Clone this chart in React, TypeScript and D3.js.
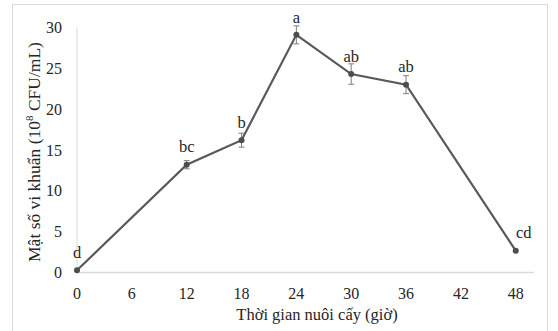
import React, { useEffect, useRef } from 'react';
import * as d3 from 'd3';

// values
const hours = [0, 12, 18, 24, 30, 36, 48];
const density = [0.27, 13.2, 16.2, 29.1, 24.3, 23.0, 2.67];
const errors = [0, 0.5, 0.85, 1.1, 1.25, 1.1, 0.05];
const letters = ['d', 'bc', 'b', 'a', 'ab', 'ab', 'cd'];
const xTicks = [0, 6, 12, 18, 24, 30, 36, 42, 48];
const yTicks = [0, 5, 10, 15, 20, 25, 30];

const App = () => {
  const chartRef = useRef(null);

  useEffect(() => {
    const svg = d3.select(chartRef.current);
    svg.selectAll('*').remove();
    const font = '"Liberation Serif", "Times New Roman", serif';

    const x = d3.scaleLinear().domain([0, 50]).range([77, 534]);
    const y = d3.scaleLinear().domain([0, 30]).range([272.5, 27.5]);

    // outer frame
    svg.append('rect')
      .attr('x', 12.5).attr('y', 4.5)
      .attr('width', 535).attr('height', 340)
      .attr('fill', 'white').attr('stroke', '#d9d9d9');

    // axis lines
    svg.append('line')
      .attr('x1', x(0)).attr('x2', x(50))
      .attr('y1', y(0)).attr('y2', y(0))
      .attr('stroke', '#d9d9d9').attr('stroke-width', 1.5);
    svg.append('line')
      .attr('x1', x(0)).attr('x2', x(0))
      .attr('y1', y(0)).attr('y2', y(30))
      .attr('stroke', '#d9d9d9').attr('stroke-width', 1);

    svg.append('g')
      .selectAll('text')
      .data(yTicks)
      .enter()
      .append('text')
      .attr('x', 62)
      .attr('y', (d) => y(d))
      .attr('dy', '0.35em')
      .attr('text-anchor', 'end')
      .attr('font-family', font)
      .attr('font-size', 16)
      .attr('fill', '#262626')
      .text((d) => d);

    svg.append('g')
      .selectAll('text')
      .data(xTicks)
      .enter()
      .append('text')
      .attr('x', (d) => x(d))
      .attr('y', 293)
      .attr('dy', '0.35em')
      .attr('text-anchor', 'middle')
      .attr('font-family', font)
      .attr('font-size', 16)
      .attr('fill', '#262626')
      .text((d) => d);

    // titles
    svg.append('text')
      .attr('x', 317).attr('y', 320)
      .attr('text-anchor', 'middle')
      .attr('font-family', font)
      .attr('font-size', 16.5)
      .attr('fill', '#262626')
      .text('Thời gian nuôi cấy (giờ)');

    const yt = svg.append('text')
      .attr('transform', 'translate(40,152) rotate(-90)')
      .attr('text-anchor', 'middle')
      .attr('font-family', font)
      .attr('font-size', 17.5)
      .attr('fill', '#262626');
    yt.append('tspan').text('Mật số vi khuẩn (10');
    yt.append('tspan').attr('dy', -7).attr('font-size', 11).text('8');
    yt.append('tspan').attr('dy', 7).text(' CFU/mL)');

    const pts = hours.map((h, i) => ({ h, v: density[i], e: errors[i], l: letters[i] }));

    const line = d3.line()
      .x((d) => x(d.h))
      .y((d) => y(d.v));

    svg.append('path')
      .datum(pts)
      .attr('d', line)
      .attr('fill', 'none')
      .attr('stroke', '#595959')
      .attr('stroke-width', 2.2);

    // error bars
    const eb = svg.append('g')
      .selectAll('g')
      .data(pts.filter((d) => d.e > 0.2))
      .enter()
      .append('g')
      .attr('stroke', '#7f7f7f')
      .attr('stroke-width', 1);
    eb.append('line')
      .attr('x1', (d) => x(d.h)).attr('x2', (d) => x(d.h))
      .attr('y1', (d) => y(d.v + d.e)).attr('y2', (d) => y(d.v - d.e));
    eb.append('line')
      .attr('x1', (d) => x(d.h) - 3).attr('x2', (d) => x(d.h) + 3)
      .attr('y1', (d) => y(d.v + d.e)).attr('y2', (d) => y(d.v + d.e));
    eb.append('line')
      .attr('x1', (d) => x(d.h) - 3).attr('x2', (d) => x(d.h) + 3)
      .attr('y1', (d) => y(d.v - d.e)).attr('y2', (d) => y(d.v - d.e));

    svg.append('g')
      .selectAll('circle')
      .data(pts)
      .enter()
      .append('circle')
      .attr('cx', (d) => x(d.h))
      .attr('cy', (d) => y(d.v))
      .attr('r', 3)
      .attr('fill', '#4d4d4d');

    svg.append('g')
      .selectAll('text')
      .data(pts)
      .enter()
      .append('text')
      .attr('x', (d) => x(d.h) + (d.l === 'cd' ? 8 : 0))
      .attr('y', (d) => y(d.v) - 18)
      .attr('dy', '0.35em')
      .attr('text-anchor', 'middle')
      .attr('font-family', font)
      .attr('font-size', 16.5)
      .attr('fill', '#262626')
      .text((d) => d.l);
  }, []);

  return (
    <svg
      ref={chartRef}
      width={558}
      height={331}
      style={{ position: 'absolute', left: 0, top: 0, background: 'white' }}
    ></svg>
  );
};

export default App;
